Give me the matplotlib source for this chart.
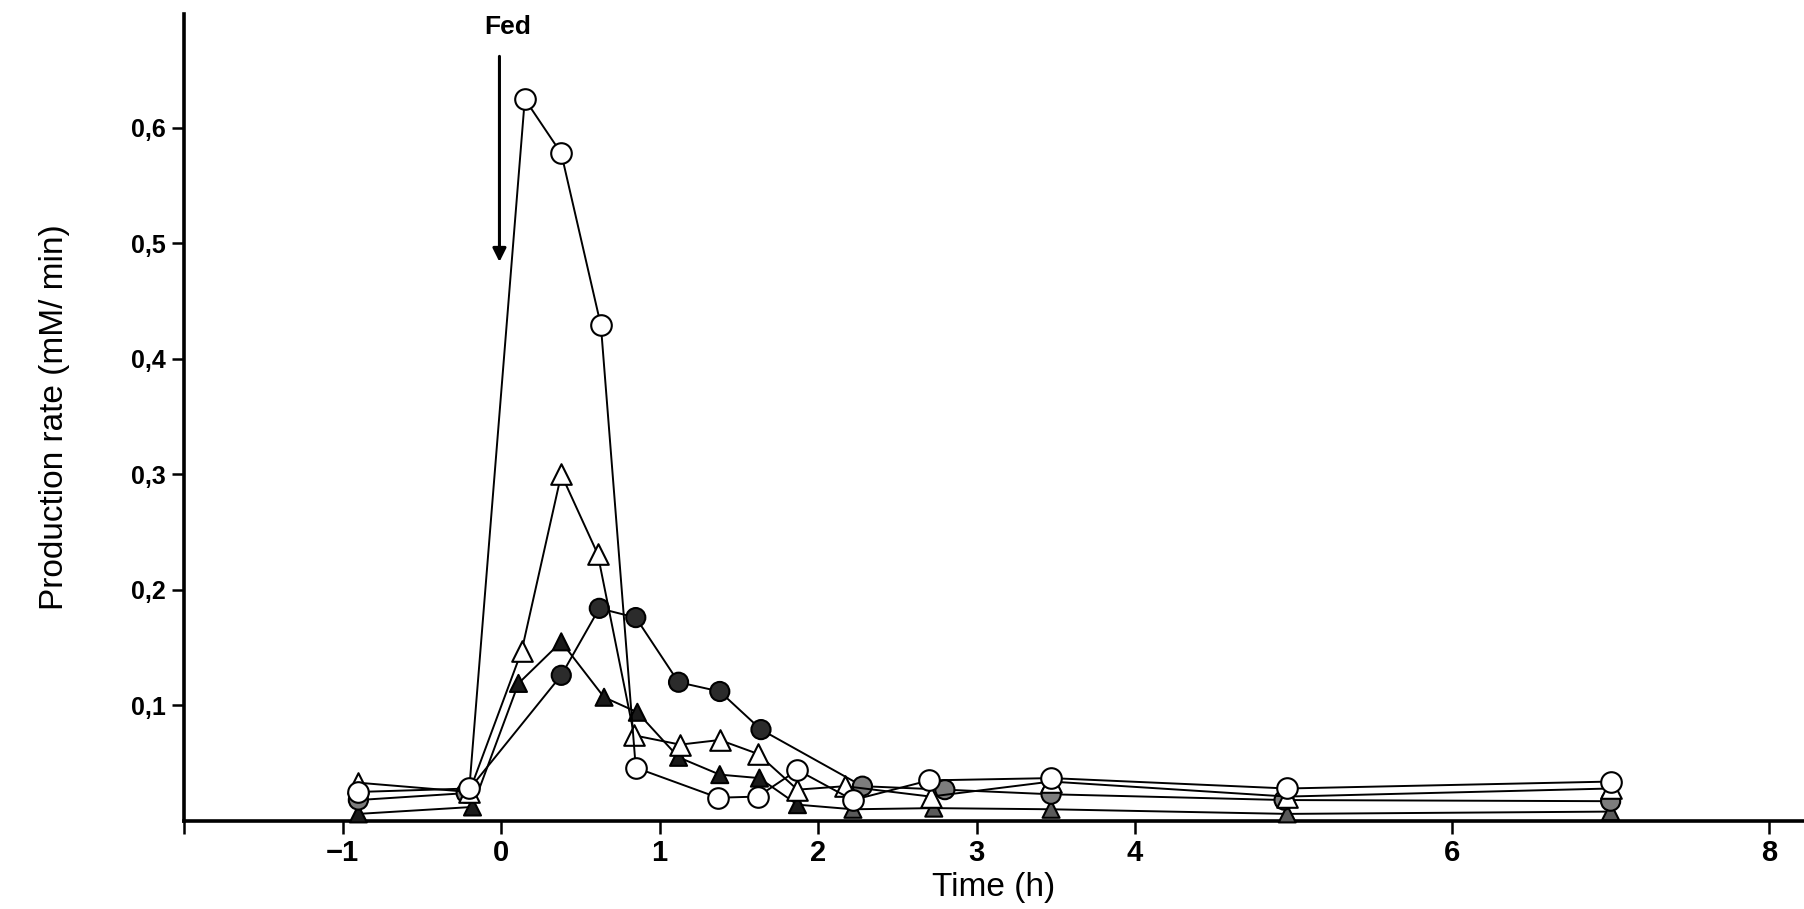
import matplotlib
matplotlib.use("Agg")
import matplotlib.pyplot as plt

plt.rcParams['font.family'] = ['Liberation Sans', 'DejaVu Sans']

# Time after feeding (h) and production rates (mM/min) for four series
t_open_circle = [-0.9, -0.2, 0.15, 0.38, 0.63, 0.85, 1.37, 1.62, 1.87, 2.22, 2.70, 3.47, 4.96, 7.0]
r_open_circle = [0.025, 0.028, 0.625, 0.578, 0.429, 0.046, 0.020, 0.021, 0.044, 0.018, 0.035, 0.037, 0.028, 0.034]

t_open_tri = [-0.9, -0.2, 0.13, 0.38, 0.61, 0.84, 1.13, 1.38, 1.62, 1.87, 2.17, 2.71, 3.47, 4.96, 7.0]
r_open_tri = [0.033, 0.025, 0.147, 0.300, 0.231, 0.074, 0.066, 0.070, 0.058, 0.027, 0.030, 0.021, 0.034, 0.021, 0.028]

t_filled_circle = [-0.9, -0.22, 0.38, 0.62, 0.85, 1.12, 1.38, 1.64, 2.28, 2.80, 3.47, 4.94, 7.0]
r_filled_circle = [0.018, 0.024, 0.126, 0.184, 0.176, 0.120, 0.112, 0.079, 0.030, 0.027, 0.023, 0.018, 0.017]

t_filled_tri = [-0.9, -0.18, 0.11, 0.38, 0.65, 0.86, 1.12, 1.38, 1.63, 1.87, 2.22, 2.73, 3.47, 4.96, 7.0]
r_filled_tri = [0.006, 0.012, 0.119, 0.155, 0.107, 0.094, 0.055, 0.040, 0.037, 0.014, 0.010, 0.011, 0.010, 0.006, 0.008]

x_ticks = [-2, -1, 0, 1, 2, 3, 4, 6, 8]
x_tick_labels = ["", "\u22121", "0", "1", "2", "3", "4", "6", "8"]
y_ticks = [0.1, 0.2, 0.3, 0.4, 0.5, 0.6]
y_tick_labels = ["0,1", "0,2", "0,3", "0,4", "0,5", "0,6"]

fig = plt.figure(figsize=(18.04, 9.09), dpi=100)
ax = fig.add_axes([0.102, 0.097, 0.898, 0.888])

line_kw = dict(color="black", linewidth=1.4, clip_on=False)
mark_kw = dict(edgecolors="black", linewidths=1.5, clip_on=False)

# Filled triangles
ax.plot(t_filled_tri, r_filled_tri, zorder=3, **line_kw)
ax.scatter(t_filled_tri, r_filled_tri, marker="^", s=150,
           c=["#1a1a1a" if t < 2 else "#5a5a5a" for t in t_filled_tri],
           zorder=3.5, **mark_kw)

# Filled circles (later points print lighter)
ax.plot(t_filled_circle, r_filled_circle, zorder=4, **line_kw)
ax.scatter(t_filled_circle, r_filled_circle, marker="o", s=190,
           c=["#2b2b2b" if 0 < t < 2 else "#7d7d7d" for t in t_filled_circle],
           zorder=4.5, **mark_kw)

# Open triangles
ax.plot(t_open_tri, r_open_tri, zorder=5, **line_kw)
ax.scatter(t_open_tri, r_open_tri, marker="^", s=220, c="white",
           zorder=5.5, **mark_kw)

# Open circles
ax.plot(t_open_circle, r_open_circle, zorder=6, **line_kw)
ax.scatter(t_open_circle, r_open_circle, marker="o", s=220, c="white",
           zorder=6.5, **mark_kw)

# Feeding time marker
ax.annotate("", xy=(-0.01, 0.484), xytext=(-0.01, 0.662),
            arrowprops=dict(arrowstyle="-|>", color="black", lw=2.2,
                            mutation_scale=20, shrinkA=0, shrinkB=0))
ax.text(0.04, 0.687, "Fed", ha="center", va="center", fontsize=19,
        fontweight="bold")

ax.set_xlim(-2.0, 8.22)
ax.set_ylim(0, 0.699)

ax.set_xticks(x_ticks)
ax.set_xticklabels(x_tick_labels, fontsize=21, fontweight="bold")
ax.set_yticks(y_ticks)
ax.set_yticklabels(y_tick_labels, fontsize=18, fontweight="bold")

for side in ("top", "right"):
    ax.spines[side].set_visible(False)
for side in ("left", "bottom"):
    ax.spines[side].set_linewidth(2.6)
ax.tick_params(axis="both", direction="out", length=9, width=1.8, pad=4)

ax.set_xlabel("Time (h)", fontsize=24, labelpad=4)
ax.set_ylabel("Production rate (mM/ min)", fontsize=24, labelpad=44)

fig.savefig("out.png", dpi=100, facecolor="white")
